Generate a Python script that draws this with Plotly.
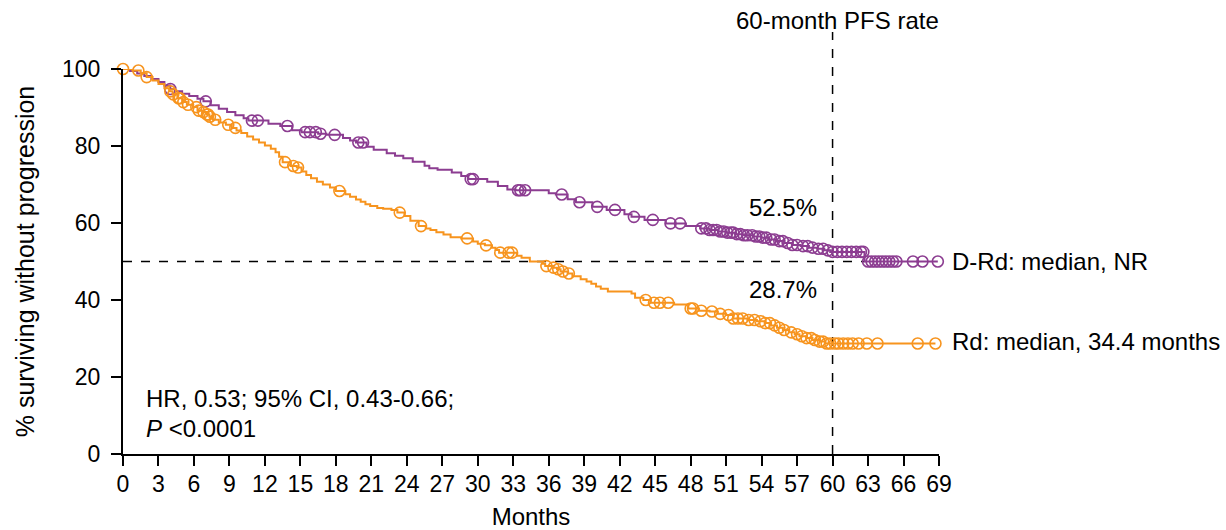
import numpy as np
import plotly.graph_objects as go

# Kaplan-Meier step points: time (months) and % progression-free after each step
drd_t = [0, 0.6, 1.2, 1.8, 2.4, 3.0, 3.5, 4.0, 4.4, 5.0, 5.6, 6.3, 6.8, 7.4, 8.1, 8.8,
         9.5, 10.2, 10.6, 12.3, 13.3, 14.3, 15.1, 16.5, 17.2, 18.6, 19.2, 19.7, 20.6,
         21.2, 22.3, 23.0, 23.7, 24.5, 25.5, 25.9, 26.6, 27.8, 28.6, 29.2, 30.8, 31.7,
         32.5, 33.2, 36.0, 36.6, 37.6, 38.3, 39.7, 40.9, 42.4, 43.0, 44.1, 45.9, 47.6,
         48.8, 49.6, 50.3, 51.0, 51.8, 52.5, 53.3, 54.0, 54.6, 55.2, 55.9, 56.6, 57.3,
         58.0, 58.7, 59.3, 59.8, 62.7, 68.9]
drd_s = [100, 99.5, 98.8, 98.2, 97.4, 96.6, 95.7, 94.8, 94.2, 93.6, 93.0, 92.3, 91.6,
         90.6, 89.7, 88.8, 88.0, 87.2, 86.6, 85.8, 85.2, 84.1, 83.6, 83.2, 82.9, 82.1,
         81.4, 80.9, 79.8, 79.0, 78.1, 77.5, 76.8, 75.9, 74.9, 74.2, 73.8, 73.1, 72.2,
         71.4, 70.7, 69.6, 68.7, 68.5, 67.7, 67.4, 66.2, 65.4, 64.2, 63.4, 62.3, 61.6,
         60.8, 59.9, 59.2, 58.6, 58.2, 57.8, 57.5, 57.1, 56.8, 56.5, 56.2, 55.7, 55.3,
         54.8, 54.3, 54.0, 53.6, 53.3, 52.9, 52.5, 50.0, 50.0]

rd_t = [0, 0.8, 1.5, 2.0, 2.5, 3.0, 3.5, 3.9, 4.2, 4.6, 5.0, 5.4, 5.9, 6.3, 6.7, 7.1,
        7.3, 7.6, 8.1, 8.7, 9.2, 9.6, 10.0, 10.5, 11.0, 11.5, 12.0, 12.5, 12.9, 13.2,
        13.5, 14.2, 14.7, 15.1, 15.5, 15.9, 16.4, 16.9, 17.5, 18.0, 18.8, 19.2, 19.7,
        20.1, 20.5, 20.9, 21.5, 22.0, 22.7, 23.2, 23.8, 24.3, 25.0, 25.6, 26.0, 26.5,
        27.1, 27.7, 28.6, 29.6, 30.0, 30.6, 31.2, 31.5, 31.8, 33.3, 33.7, 34.4, 35.5,
        35.7, 36.4, 36.7, 37.0, 37.6, 38.0, 38.7, 39.2, 39.6, 40.0, 40.4, 41.0, 43.0,
        43.3, 44.0, 44.6, 46.6, 47.8, 48.7, 49.6, 50.3, 51.0, 51.6, 52.8, 53.6, 54.3,
        54.8, 55.3, 55.8, 56.3, 56.8, 57.2, 57.8, 58.3, 58.9, 59.4, 68.7]
rd_s = [100, 99.6, 98.9, 97.9, 97.0, 96.1, 95.0, 94.2, 93.4, 92.4, 91.4, 90.7, 90.1,
        89.2, 88.8, 88.2, 87.6, 86.8, 86.1, 85.5, 84.7, 84.0, 83.4, 82.5, 81.7, 80.9,
        80.1, 79.3, 78.4, 77.2, 75.8, 74.8, 74.4, 73.4, 72.5, 71.6, 70.7, 70.0, 69.2,
        68.3, 67.5, 66.8, 66.1, 65.5, 64.9, 64.4, 63.9, 63.7, 63.4, 62.7, 61.8, 60.6,
        59.2, 58.6, 58.2, 57.6, 57.0, 56.3, 56.0, 55.2, 54.6, 54.2, 53.6, 53.0, 52.3,
        51.5, 51.0, 50.0, 49.4, 48.8, 48.4, 48.0, 47.4, 46.9, 46.2, 45.4, 44.8, 44.2,
        43.5, 42.9, 42.2, 41.7, 40.6, 40.0, 39.3, 38.8, 37.8, 37.2, 37.0, 36.4, 36.1,
        35.2, 34.8, 34.5, 34.0, 33.4, 32.8, 32.2, 31.6, 31.1, 30.6, 30.1, 29.6, 29.2,
        28.7, 28.7]

# Censoring times (months)
drd_cens = [4.0, 7.0, 10.9, 11.4, 13.9, 15.4, 15.8, 16.3, 16.7, 17.9, 19.9, 20.3, 29.4,
            29.6, 33.4, 33.6, 34.0, 37.1, 38.6, 40.1, 41.6, 43.2, 44.8, 46.3, 47.1, 48.9,
            49.3, 49.6, 49.9, 50.2, 50.5, 50.8, 51.1, 51.4, 51.6, 51.9, 52.2, 52.5, 52.8,
            53.2, 53.5, 53.8, 54.1, 54.4, 54.8, 55.1, 55.5, 55.8, 56.2, 56.6, 57.0, 57.5,
            57.9, 58.3, 58.8, 59.2, 59.6, 60.0, 60.4, 60.8, 61.2, 61.6, 62.0, 62.4, 62.6,
            63.0, 63.3, 63.6, 63.9, 64.2, 64.5, 64.8, 65.1, 65.4, 66.8, 67.6, 68.9]
rd_cens = [0.0, 1.3, 2.0, 4.0, 4.25, 4.7, 4.8, 5.1, 5.5, 6.2, 6.4, 6.8, 7.1, 7.2, 7.35,
           7.8, 8.9, 9.5, 13.7, 14.4, 14.8, 18.3, 23.4, 25.2, 29.1, 30.7, 31.9, 32.6,
           32.9, 35.8, 36.4, 36.8, 37.2, 37.7, 44.2, 44.9, 45.4, 46.1, 48.0, 48.2, 48.9,
           49.8, 50.5, 51.2, 51.6, 52.0, 52.4, 52.9, 53.4, 53.9, 54.3, 54.7, 55.1, 55.5,
           55.9, 56.5, 57.0, 57.4, 57.8, 58.2, 58.5, 58.9, 59.2, 59.5, 59.8, 60.2, 60.5,
           60.9, 61.3, 61.7, 62.2, 62.9, 63.8, 67.2, 68.7]

x_ticks = list(range(0, 70, 3))
y_ticks = [0, 20, 40, 60, 80, 100]

PURPLE = "#8C3D91"
ORANGE = "#F7941E"
FONT = "Liberation Sans, Arial, sans-serif"
FS_TICK = 23
FS_TEXT = 24


def km_at(t_steps, s_steps, times):
    """Value of the step curve at each censoring time."""
    idx = np.searchsorted(np.asarray(t_steps), np.asarray(times), side="right") - 1
    return np.asarray(s_steps)[idx]


fig = go.Figure()

for t, s, cens, color in [(drd_t, drd_s, drd_cens, PURPLE), (rd_t, rd_s, rd_cens, ORANGE)]:
    fig.add_trace(go.Scatter(x=t, y=s, mode="lines", line=dict(color=color, width=2, shape="hv"),
                             showlegend=False, hoverinfo="skip", cliponaxis=False))
    fig.add_trace(go.Scatter(x=cens, y=km_at(t, s, cens), mode="markers",
                             marker=dict(symbol="circle-open", size=11, color=color,
                                         line=dict(width=1.6, color=color)),
                             showlegend=False, cliponaxis=False))

# Reference lines: median (50%) and 60-month landmark
fig.add_shape(type="line", xref="x", yref="y", x0=0, x1=62.7, y0=50, y1=50,
              line=dict(color="black", width=1.5, dash="dash"), layer="below")
fig.add_shape(type="line", xref="x", yref="paper", x0=60, x1=60, y0=0, y1=1.096,
              line=dict(color="black", width=1.5, dash="dash"), layer="below")

ann = [
    dict(x=60.4, y=1.127, yref="paper", text="60-month PFS rate", xanchor="center"),
    dict(x=55.8, y=63.9, text="52.5%", xanchor="center"),
    dict(x=55.8, y=42.6, text="28.7%", xanchor="center"),
    # curve labels sit just right of the plotting area
    dict(x=1.0135, xref="paper", y=50.1, text="D-Rd: median, NR", xanchor="left"),
    dict(x=1.0135, xref="paper", y=29.1, text="Rd: median, 34.4 months", xanchor="left"),
    dict(x=1.8, y=14.5, text="HR, 0.53; 95% CI, 0.43-0.66;", xanchor="left"),
    dict(x=1.8, y=6.7, text="<i>P</i> &lt;0.0001", xanchor="left"),
]
for a in ann:
    a.setdefault("xref", "x")
    a.setdefault("yref", "y")
    fig.add_annotation(**a, yanchor="middle", showarrow=False,
                       font=dict(family=FONT, size=FS_TEXT, color="black"))

axis_common = dict(showline=True, linecolor="black", linewidth=2, ticks="outside",
                   ticklen=10, tickwidth=2, tickcolor="black", showgrid=False,
                   zeroline=False, automargin=False,
                   tickfont=dict(family=FONT, size=FS_TICK, color="black"))

fig.update_xaxes(range=[0, 69], tickvals=x_ticks, ticktext=[str(v) for v in x_ticks],
                 title=dict(text="Months", font=dict(family=FONT, size=FS_TEXT, color="black"),
                            standoff=13),
                 ticklabelstandoff=-2, **axis_common)
fig.update_yaxes(range=[0, 100], tickvals=y_ticks,
                 title=dict(text="% surviving without progression",
                            font=dict(family=FONT, size=25, color="black"), standoff=20),
                 ticklabelstandoff=6, **axis_common)

fig.update_layout(width=1226, height=530, margin=dict(l=123, r=287, t=69, b=76),
                  plot_bgcolor="white", paper_bgcolor="white")

fig.write_html("out.html")
